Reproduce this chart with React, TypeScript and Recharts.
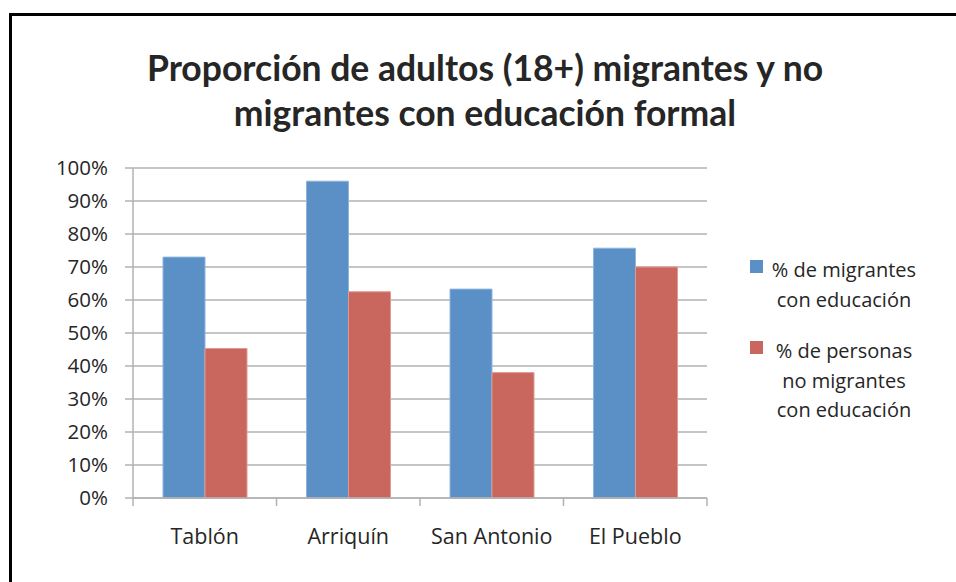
import React from "react";
import { BarChart, Bar, XAxis, YAxis, CartesianGrid } from "recharts";

const categories = ["Tablón", "Arriquín", "San Antonio", "El Pueblo"];
const migrantes = [0.73, 0.96, 0.633, 0.757];
const noMigrantes = [0.453, 0.625, 0.38, 0.70];
const yTicks = [0, 0.1, 0.2, 0.3, 0.4, 0.5, 0.6, 0.7, 0.8, 0.9, 1];

const data = categories.map((name, i) => ({
  name,
  migrantes: migrantes[i],
  noMigrantes: noMigrantes[i],
}));

const BLUE = "#5b90c7";
const RED = "#c9665d";
const GRID = "#b2b2b2";
const TEXT = "#262626";
const FONT = "'Open Sans', sans-serif";

// category label plus the boundary tick marks between groups
const CategoryTick = (props: any) => {
  const { x, y, payload, index } = props;
  const half = payload.offset ?? 71.75;
  return (
    <g>
      <line x1={x - half} y1={y - 8} x2={x - half} y2={y} stroke={GRID} strokeWidth={1.5} />
      {index === categories.length - 1 && (
        <line x1={x + half} y1={y - 8} x2={x + half} y2={y} stroke={GRID} strokeWidth={1.5} />
      )}
      <text x={x} y={y + 38} textAnchor="middle" fill={TEXT} fontSize={21.5} fontFamily={FONT}>
        {payload.value}
      </text>
    </g>
  );
};

const LegendItem = ({ color, lines, top }: { color: string; lines: string[]; top: number }) => (
  <div style={{ position: "absolute", left: 750, top, width: 200 }}>
    <div style={{ position: "absolute", left: 0, top: 5, width: 13, height: 13, background: color }} />
    <div
      style={{
        position: "absolute",
        left: 14,
        width: 160,
        textAlign: "center",
        fontFamily: FONT,
        fontSize: 20,
        lineHeight: "29.5px",
        color: TEXT,
      }}
    >
      {lines.map((l) => (
        <div key={l}>{l}</div>
      ))}
    </div>
  </div>
);

export default function App() {
  return (
    <div style={{ position: "absolute", left: 0, top: 0, width: 956, height: 582, background: "#fff", overflow: "hidden" }}>
      <div
        style={{
          position: "absolute",
          left: 9,
          top: 13,
          width: 1000,
          height: 700,
          borderTop: "3.5px solid #000",
          borderLeft: "3.5px solid #000",
        }}
      />
      <div
        style={{
          position: "absolute",
          left: 85,
          top: 45,
          width: 800,
          textAlign: "center",
          fontFamily: "Lato, sans-serif",
          fontWeight: 700,
          fontSize: 35.5,
          lineHeight: "45px",
          color: TEXT,
        }}
      >
        Proporción de adultos (18+) migrantes y no
        <br />
        migrantes con educación formal
      </div>
      <div style={{ position: "absolute", left: 0, top: 0 }}>
        <BarChart
          width={956}
          height={582}
          data={data}
          margin={{ top: 168, right: 249, left: 73, bottom: 34 }}
          barCategoryGap={30}
          barGap={0}
        >
          <CartesianGrid vertical={false} stroke={GRID} strokeWidth={1.5} />
          <XAxis
            dataKey="name"
            height={50}
            axisLine={{ stroke: GRID, strokeWidth: 1.5 }}
            tickLine={false}
            tick={<CategoryTick />}
            interval={0}
          />
          <YAxis
            width={60}
            domain={[0, 1]}
            ticks={yTicks}
            interval={0}
            tickFormatter={(v: number) => `${Math.round(v * 100)}%`}
            axisLine={{ stroke: GRID, strokeWidth: 1.5 }}
            tickLine={{ stroke: GRID, strokeWidth: 1.5 }}
            tickSize={8}
            tickMargin={17}
            tick={{ fill: TEXT, fontSize: 20.5, fontFamily: FONT }}
          />
          <Bar dataKey="migrantes" fill={BLUE} stroke="#8fb4dd" strokeWidth={1} isAnimationActive={false} />
          <Bar dataKey="noMigrantes" fill={RED} stroke="#e09a94" strokeWidth={1} isAnimationActive={false} />
        </BarChart>
      </div>
      <LegendItem color={BLUE} lines={["% de migrantes", "con educación"]} top={255} />
      <LegendItem color={RED} lines={["% de personas", "no migrantes", "con educación"]} top={336} />
    </div>
  );
}
